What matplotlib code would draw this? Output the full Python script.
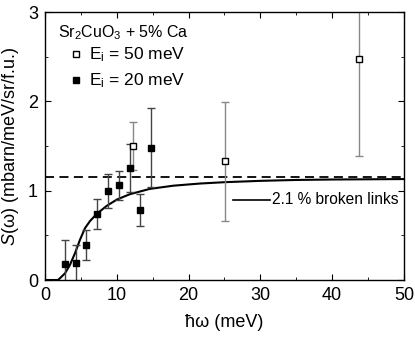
import matplotlib
matplotlib.use('Agg')
from matplotlib import pyplot as plt
from matplotlib.ticker import MultipleLocator

plt.rcParams['font.family'] = ['Liberation Sans', 'DejaVu Sans']
plt.rcParams['mathtext.fontset'] = 'custom'
plt.rcParams['mathtext.rm'] = 'Liberation Sans'
plt.rcParams['mathtext.it'] = 'Liberation Sans:italic'

# E_i = 20 meV (filled squares)
e20_x = [2.74, 4.27, 5.76, 7.29, 8.77, 10.26, 11.8, 13.27, 14.76]
e20_y = [0.18, 0.19, 0.39, 0.74, 1.00, 1.06, 1.25, 0.78, 1.48]
e20_err = [0.27, 0.20, 0.17, 0.17, 0.19, 0.16, 0.27, 0.18, 0.44]

# E_i = 50 meV (open squares)
e50_x = [12.3, 25.07, 43.8]
e50_y = [1.50, 1.33, 2.47]
e50_err = [0.27, 0.665, 1.08]

# model curve, 2.1 % broken links
fit_x = [0, 1.8, 2.09, 2.79, 3.48, 4.18, 4.87, 5.57, 6.27, 7.2, 8.6, 10.0,
         11.8, 14.6, 17.9, 21.6, 25, 30, 35, 40, 50]
fit_y = [0, 0, 0.02, 0.075, 0.17, 0.30, 0.45, 0.58, 0.66, 0.74, 0.83, 0.90,
         0.96, 1.02, 1.056, 1.08, 1.095, 1.11, 1.12, 1.125, 1.13]

level = 1.15

fig = plt.figure(figsize=(4.15, 3.39), dpi=100)
ax = fig.add_axes([0.1084, 0.174, 0.865, 0.7906])

ax.axhline(level, color='black', lw=1.3, ls=(0, (5, 3)))
ax.plot(fit_x, fit_y, color='black', lw=1.5)

ax.errorbar(e50_x, e50_y, yerr=e50_err, fmt='s', ms=4.5, mfc='white',
            mec='black', mew=1.0, ecolor='#888888', elinewidth=1.0,
            capsize=3, capthick=1.0)
ax.errorbar(e20_x, e20_y, yerr=e20_err, fmt='s', ms=5, mfc='black',
            mec='black', ecolor='#444444', elinewidth=1.0,
            capsize=3, capthick=1.0)

# legend drawn by hand
ax.text(1.8, 2.77, r'Sr$_2$CuO$_3$ + 5% Ca', fontsize=11.5, va='center')
ax.plot([4.3], [2.53], 's', ms=4, mfc='white', mec='black', mew=1.0)
ax.text(6.1, 2.52, r'E$_\mathrm{i}$ = 50 meV', fontsize=12.5, va='center')
ax.plot([4.3], [2.24], 's', ms=4.5, mfc='black', mec='black')
ax.text(6.1, 2.23, r'E$_\mathrm{i}$ = 20 meV', fontsize=12.5, va='center')
ax.plot([26.2, 31.3], [0.90, 0.90], color='black', lw=1.2)
ax.text(31.6, 0.90, '2.1 % broken links', fontsize=11.2, va='center')

ax.set_xlim(0, 50)
ax.set_ylim(0, 3)
ax.xaxis.set_major_locator(MultipleLocator(10))
ax.xaxis.set_minor_locator(MultipleLocator(5))
ax.yaxis.set_major_locator(MultipleLocator(1))
ax.yaxis.set_minor_locator(MultipleLocator(0.5))
ax.tick_params(which='both', direction='in', top=True, right=True,
               labelsize=13)
ax.tick_params(which='major', length=4, pad=5)
ax.tick_params(which='minor', length=2.5)
for s in ax.spines.values():
    s.set_linewidth(1.0)

ax.set_xlabel('ħω (meV)', fontsize=13, labelpad=7)
ax.set_ylabel(r'$\mathit{S}$(ω) (mbarn/meV/sr/f.u.)', fontsize=13, labelpad=5)

fig.savefig('out.png', dpi=100)
